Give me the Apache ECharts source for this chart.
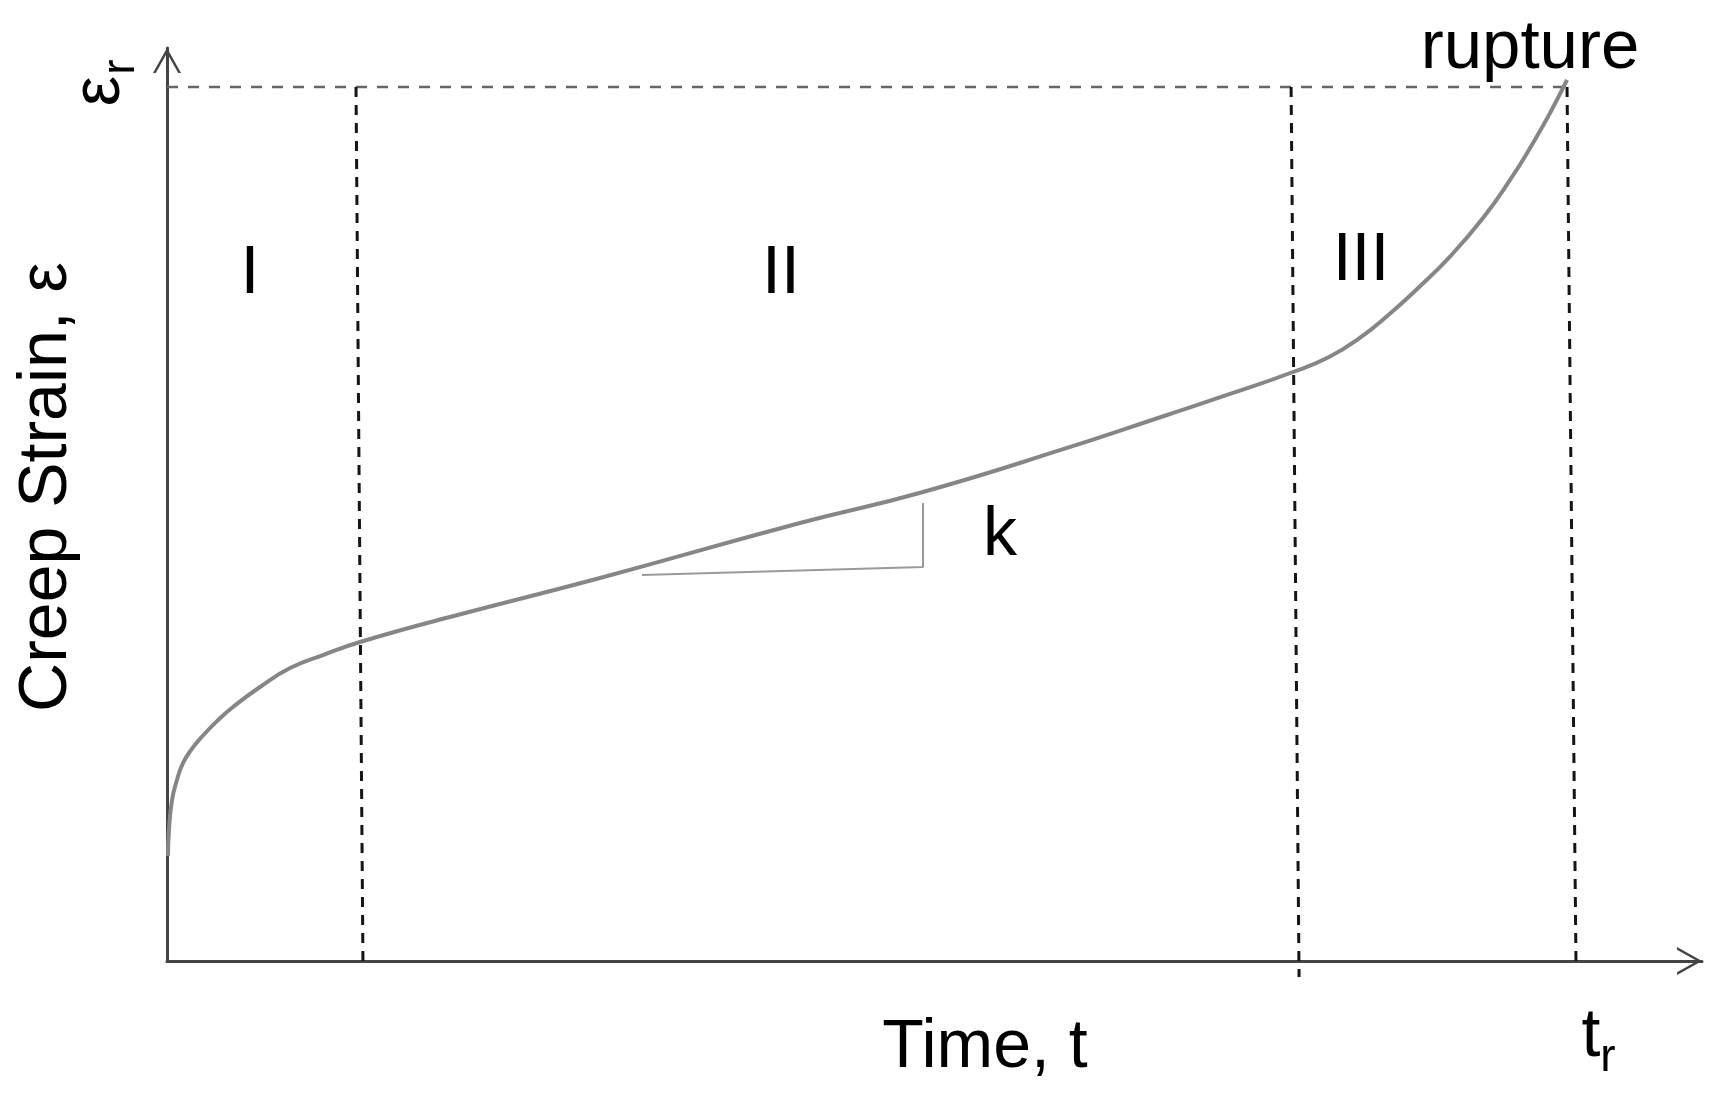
<!DOCTYPE html>
<html>
<head>
<meta charset="utf-8">
<script src="https://cdn.jsdelivr.net/npm/echarts@6/dist/echarts.min.js"></script>
<style>
html,body{margin:0;padding:0;background:#fff}
#c{width:1719px;height:1100px}
</style>
</head>
<body>
<div id="c"></div>
<script>
// ---- data (time and strain in arbitrary units, rupture at t=100, eps=100) ----
const curveTime   = [0.07, 0.14, 0.36, 0.71, 1.14, 1.79, 2.57, 3.57, 4.71, 6.64, 8.79, 11.14, 13.79, 20.21, 30.93, 45.21, 54.00, 64.29, 71.43, 76.14, 80.43, 83.00, 85.20, 87.30, 89.29, 91.64, 94.00, 95.93, 97.57, 98.79, 100.00];
const curveStrain = [12.01, 14.99, 18.42, 20.71, 22.65, 24.30, 25.80, 27.45, 29.06, 31.35, 33.52, 35.01, 36.50, 39.36, 43.82, 50.11, 53.66, 58.70, 62.47, 64.99, 67.39, 69.10, 71.30, 74.00, 76.89, 80.60, 85.01, 89.36, 93.59, 97.03, 100.80];

const stageLabels = ['I', 'II', 'III'];
const boundaryTimeTop    = [13.50, 80.29, 100.00];
const boundaryTimeBottom = [14.00, 80.86, 100.64];
const boundaryStrainBottom = [-0.80, -1.83, -0.23];

const ruptureTime = 100;
const ruptureStrain = 100;

const slopeTime   = [33.93, 54.00, 54.00];
const slopeStrain = [44.16, 45.08, 52.40];

const axisTimeMax = 109.64;
const axisStrainMax = 104.46;

// ---- build ----
const curveData = curveTime.map((t, i) => [t, curveStrain[i]]);
const ruptureLine = [[0, ruptureStrain], [ruptureTime, ruptureStrain]];
const slopeData = slopeTime.map((t, i) => [t, slopeStrain[i]]);

const FONT = '"Liberation Sans", Arial, sans-serif';
const chevron = 'path://M14,0 L28,25 L25.25,25 L14,4.9 L2.75,25 L0,25 Z';

const boundarySeries = boundaryTimeTop.map((tt, i) => ({
  type: 'line',
  name: 'boundary ' + stageLabels[i],
  data: [[tt, ruptureStrain], [boundaryTimeBottom[i], boundaryStrainBottom[i]]],
  showSymbol: false,
  clip: false,
  silent: true,
  z: 3,
  lineStyle: { color: '#151515', width: 3, type: [10, 8] }
}));

function txt(text, x, y, size, rot) {
  return {
    type: 'text', x: x, y: y, rotation: rot || 0, z: 100,
    style: { text: text, fill: '#000', fontSize: size, fontFamily: FONT, align: 'center', verticalAlign: 'middle' }
  };
}

const chart = echarts.init(document.getElementById('c'), null, { renderer: 'canvas' });
chart.setOption({
  animation: false,
  backgroundColor: '#fff',
  grid: { left: 167, right: 17, top: 48, bottom: 139, containLabel: false, outerBoundsMode: 'none' },
  xAxis: {
    type: 'value', min: 0, max: axisTimeMax,
    axisLine: { show: true, onZero: true, lineStyle: { color: '#444', width: 3 },
      symbol: ['none', chevron], symbolSize: [28, 25], symbolOffset: [0, -12.5] },
    axisTick: { show: false }, axisLabel: { show: false }, splitLine: { show: false }
  },
  yAxis: {
    type: 'value', min: 0, max: axisStrainMax,
    axisLine: { show: true, onZero: true, lineStyle: { color: '#444', width: 3 },
      symbol: ['none', chevron], symbolSize: [28, 25], symbolOffset: [0, -12.5] },
    axisTick: { show: false }, axisLabel: { show: false }, splitLine: { show: false }
  },
  series: [
    {
      type: 'line', name: 'rupture strain', data: ruptureLine, showSymbol: false, clip: false, silent: true, z: 2,
      lineStyle: { color: '#666', width: 2.5, type: [11, 10] }
    },
    ...boundarySeries,
    {
      type: 'line', name: 'slope k', data: slopeData, showSymbol: false, clip: false, silent: true, z: 4,
      lineStyle: { color: '#9a9a9a', width: 2 }
    },
    {
      type: 'line', name: 'creep strain', data: curveData, smooth: 0.5, showSymbol: false, clip: false, silent: true, z: 5,
      lineStyle: { color: '#868686', width: 4 }
    }
  ],
  graphic: [
    txt(stageLabels[0], 250, 274, 68),
    txt(stageLabels[1], 781, 274, 68),
    txt(stageLabels[2], 1361, 261, 68),
    txt('k', 1000, 536, 68),
    txt('rupture', 1530, 49, 69),
    txt('Time, t', 985, 1048, 68),
    txt('t', 1591, 1037, 68),
    txt('r', 1608, 1058, 46),
    txt('Creep Strain, ε', 47, 487, 68, Math.PI / 2),
    txt('ε', 100, 91, 68, Math.PI / 2),
    txt('r', 121, 67, 46, Math.PI / 2)
  ]
});
</script>
</body>
</html>
